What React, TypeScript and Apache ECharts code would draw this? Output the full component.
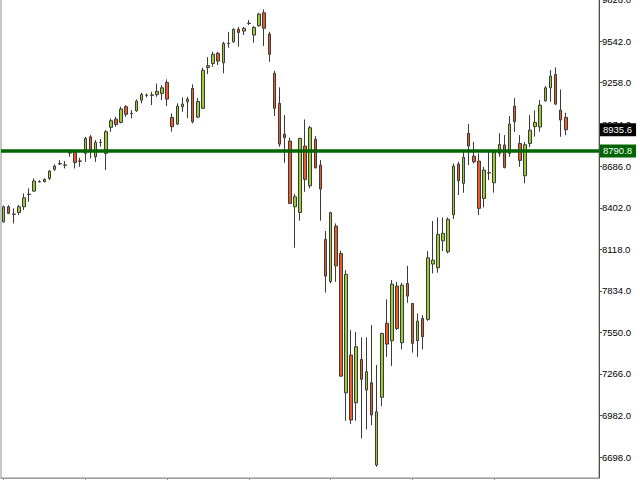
import React, { useEffect, useRef } from 'react';
import * as echarts from 'echarts';

const opens = [
  8306, 8409, 8357, 8370, 8409, 8492, 8516, 8579, 8580, 8603,
  8665, 8702, 8693, 8790, 8781, 8722, 8774, 8887, 8751, 8848,
  8774, 8952, 9008, 8986, 9093, 9046, 9065, 9138, 9171, 9173,
  9175, 9184, 9259, 9020, 8974, 9093, 9127, 9218, 9022, 9082,
  9361, 9389, 9458, 9393, 9525, 9537, 9622, 9610, 9662, 9583,
  9646, 9735, 9590, 9321, 9116, 8906, 8858, 8409, 8370, 8824,
  8552, 8870, 8694, 8186, 7898, 8277, 8090, 7137, 7395, 7069,
  7365, 7156, 7206, 6643, 7106, 7612, 7493, 7867, 7479, 7885,
  7748, 7493, 7646, 7639, 8017, 7992, 8176, 8101, 8354, 8701,
  8569, 8911, 8755, 8721, 8466, 8640, 8573, 8774, 8831, 8774,
  9097, 8842, 8621, 8842, 8957, 8954, 9134, 9222, 9314, 9070,
  9020,
];
const closes = [
  8409, 8364, 8359, 8409, 8470, 8495, 8585, 8581, 8596, 8653,
  8687, 8704, 8695, 8776, 8712, 8720, 8876, 8803, 8849, 8850,
  8922, 8997, 8972, 9077, 9041, 9048, 9131, 9177, 9173, 9171,
  9198, 9222, 9145, 8956, 9097, 9111, 9145, 8990, 9128, 9342,
  9374, 9451, 9405, 9526, 9527, 9622, 9601, 9629, 9664, 9635,
  9726, 9629, 9451, 9082, 8837, 8881, 8432, 8477, 8876, 8596,
  8949, 8675, 8530, 7935, 8369, 8005, 7251, 7947, 6951, 7452,
  7229, 7281, 6985, 7007, 7543, 7470, 7880, 7577, 7873, 7798,
  7475, 7627, 7520, 8060, 8044, 8220, 8227, 8323, 8687, 8587,
  8747, 8824, 8716, 8398, 8660, 8642, 8781, 8835, 8678, 8974,
  8990, 8726, 8833, 8933, 8986, 9104, 9222, 9302, 9111, 9002,
  8935.6,
];
const lows = [
  8300, 8359, 8295, 8352, 8386, 8443, 8511, 8576, 8576, 8591,
  8653, 8694, 8671, 8751, 8671, 8682, 8716, 8740, 8716, 8819,
  8660, 8922, 8956, 8979, 9024, 9013, 9058, 9116, 9157, 9104,
  9161, 9138, 9097, 8922, 8967, 9058, 9015, 8979, 9015, 9077,
  9316, 9366, 9378, 9321, 9496, 9530, 9503, 9583, 9651, 9530,
  9640, 9508, 9400, 9029, 8819, 8710, 8427, 8129, 8314, 8511,
  8535, 8671, 8314, 7822, 7885, 7896, 7247, 6946, 6923, 6946,
  6825, 6887, 6916, 6631, 7046, 7383, 7320, 7566, 7434, 7753,
  7411, 7383, 7434, 7629, 7953, 7958, 8106, 8090, 8326, 8489,
  8505, 8694, 8705, 8352, 8405, 8591, 8505, 8751, 8671, 8751,
  8920, 8682, 8569, 8817, 8889, 8922, 9127, 9127, 9104, 8887,
  8899,
];
const highs = [
  8418, 8420, 8398, 8420, 8500, 8535, 8603, 8591, 8603, 8660,
  8699, 8728, 8721, 8803, 8790, 8744, 8887, 8899, 8865, 8872,
  8933, 9013, 9024, 9093, 9104, 9070, 9143, 9188, 9184, 9195,
  9252, 9241, 9280, 9047, 9116, 9157, 9161, 9246, 9152, 9359,
  9432, 9469, 9469, 9537, 9605, 9629, 9639, 9639, 9685, 9644,
  9735, 9758, 9605, 9339, 9225, 9036, 8881, 8496, 8881, 9006,
  8961, 8892, 8728, 8243, 8375, 8295, 8109, 7976, 7566, 7554,
  7516, 7516, 7600, 7327, 7547, 7776, 7908, 7896, 7889, 8005,
  7750, 7680, 7668, 8106, 8311, 8336, 8336, 8336, 8705, 8717,
  8785, 8974, 8853, 8774, 8682, 8785, 8792, 8911, 8899, 9029,
  9152, 8899, 8851, 9036, 9067, 9138, 9234, 9343, 9362, 9211,
  9052,
];

const yTicks = [6698, 6982, 7266, 7550, 7834, 8118, 8402, 8686, 8974, 9258, 9542, 9826];
const levelLine = 8790.8;
const lastPrice = 8935.6;
const slotCount = 117;
const categories = Array.from({ length: slotCount }, (_, i) => 'D' + (i + 1));

const FONT = 'Liberation Sans';

export default function App() {
  const ref = useRef<HTMLDivElement>(null);
  useEffect(() => {
    document.body.style.overflow = 'hidden';
    const chart = echarts.init(ref.current!, null, { renderer: 'svg' });
    const data = opens.map((o, i) => [o, closes[i], lows[i], highs[i]]);
    chart.setOption({
      animation: false,
      backgroundColor: '#ffffff',
      grid: {
        left: 1,
        right: 41,
        top: 19.5,
        bottom: 2,
        show: true,
        borderColor: '#8c8c8c',
        borderWidth: 1,
        backgroundColor: '#ffffff',
      },
      xAxis: {
        type: 'category',
        data: categories,
        boundaryGap: true,
        axisLine: { show: true, lineStyle: { color: '#9a9a9a', width: 1 } },
        axisTick: {
          show: true,
          alignWithLabel: true,
          length: 4,
          interval: (index: number) => index % 16 === 0 && index <= 96,
          lineStyle: { color: '#9a9a9a' },
        },
        axisLabel: { show: false },
        splitLine: { show: false },
      },
      yAxis: {
        type: 'value',
        position: 'right',
        min: 6554.5,
        max: 9826,
        scale: true,
        axisLine: { show: true, lineStyle: { color: '#4d4d4d', width: 1 } },
        axisTick: {
          show: true,
          length: 3,
          customValues: yTicks,
          lineStyle: { color: '#4d4d4d' },
        },
        axisLabel: {
          show: true,
          customValues: yTicks,
          margin: 3,
          color: '#000000',
          fontSize: 9.5,
          fontFamily: FONT,
          formatter: (v: number) => v.toFixed(1),
        },
        splitLine: { show: false },
      },
      series: [
        {
          type: 'candlestick',
          data,
          barWidth: 3,
          itemStyle: {
            color: '#9ACD32',
            color0: '#EE5A24',
            borderColor: '#3a3a3a',
            borderColor0: '#3a3a3a',
            borderColorDoji: '#1a1a1a',
            borderWidth: 1,
          },
          markLine: {
            silent: true,
            symbol: ['none', 'none'],
            animation: false,
            data: [
              {
                yAxis: levelLine,
                lineStyle: { color: '#006400', width: 3.5, type: 'solid' },
                label: {
                  show: true,
                  position: 'end',
                  distance: 1,
                  formatter: (p: any) => Number(p.value).toFixed(1),
                  backgroundColor: '#006400',
                  color: '#ffffff',
                  fontSize: 9.5,
                  fontFamily: FONT,
                  padding: [2, 4, 1, 3],
                },
              },
              {
                yAxis: lastPrice,
                lineStyle: { color: 'rgba(0,0,0,0)', width: 0 },
                label: {
                  show: true,
                  position: 'end',
                  distance: 1,
                  formatter: (p: any) => Number(p.value).toFixed(1),
                  backgroundColor: '#000000',
                  color: '#ffffff',
                  fontSize: 9.5,
                  fontFamily: FONT,
                  padding: [2, 4, 1, 3],
                },
              },
            ],
          },
        },
      ],
    });
    return () => chart.dispose();
  }, []);
  return (
    <div
      ref={ref}
      style={{ position: 'absolute', left: 0, top: -20, width: 640, height: 500 }}
    />
  );
}
